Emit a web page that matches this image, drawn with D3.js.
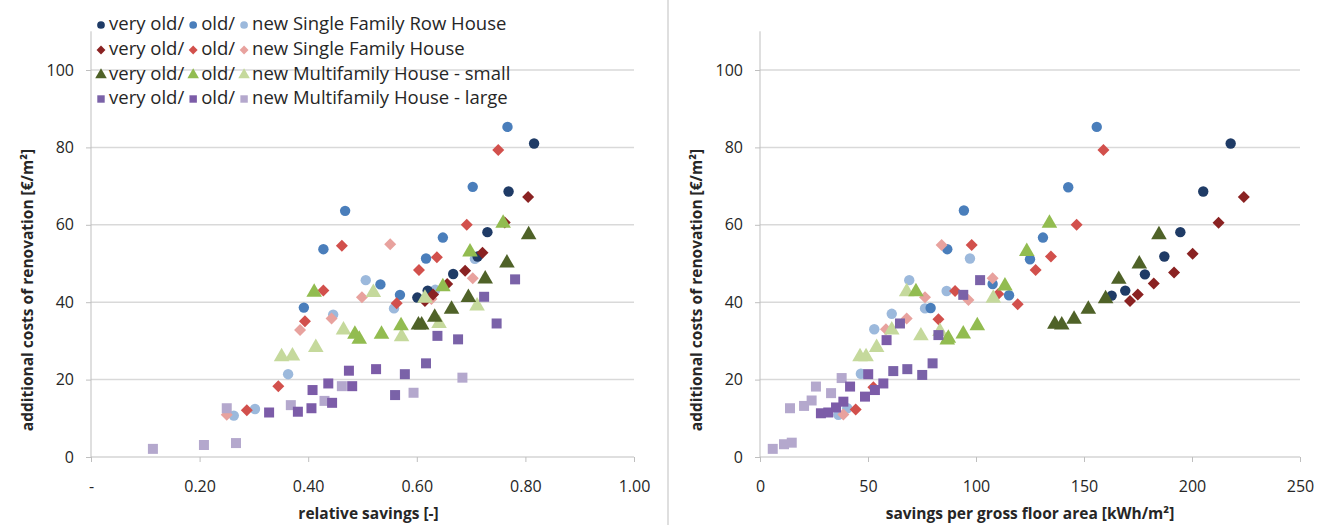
<!DOCTYPE html>
<html>
<head>
<meta charset="utf-8">
<script src="https://cdn.jsdelivr.net/npm/d3@7"></script>
<style>
  body { margin: 0; background: #fff; }
  text { font-family: "Open Sans", "Liberation Sans", sans-serif; fill: #262626; }
</style>
</head>
<body>
<div id="chart"></div>
<script>
// relative savings [-] vs additional costs [€/m²]  (left panel)
var rowVeryOldRel = [[0.816,81.0],[0.769,68.6],[0.730,58.1],[0.712,51.8],[0.667,47.3],[0.620,43.0],[0.601,41.2]];
var rowOldRel = [[0.767,85.3],[0.703,69.8],[0.468,63.6],[0.648,56.7],[0.428,53.7],[0.617,51.3],[0.533,44.6],[0.569,41.9],[0.392,38.6]];
var rowNewRel = [[0.707,51.2],[0.506,45.7],[0.634,43.2],[0.558,38.4],[0.446,36.8],[0.363,21.4],[0.302,12.4],[0.263,10.7]];
var sfhVeryOldRel = [[0.805,67.2],[0.762,60.6],[0.721,52.8],[0.689,48.1],[0.656,44.7],[0.630,42.0],[0.615,40.3]];
var sfhOldRel = [[0.750,79.3],[0.692,60.0],[0.462,54.6],[0.637,51.6],[0.604,48.3],[0.428,43.0],[0.563,39.7],[0.394,35.1],[0.345,18.3],[0.287,12.1]];
var sfhNewRel = [[0.551,55.0],[0.703,46.2],[0.499,41.3],[0.627,40.8],[0.443,35.8],[0.385,32.8],[0.250,10.9]];
var mfsVeryOldRel = [[0.806,57.4],[0.766,50.1],[0.726,46.0],[0.695,41.2],[0.664,38.2],[0.633,36.1],[0.609,34.1],[0.603,34.1]];
var mfsOldRel = [[0.759,60.4],[0.698,53.0],[0.648,44.0],[0.411,42.6],[0.571,33.9],[0.535,31.7],[0.494,30.4],[0.486,31.7]];
var mfsNewRel = [[0.520,42.5],[0.615,41.0],[0.711,39.0],[0.641,34.5],[0.465,32.8],[0.572,31.1],[0.414,28.3],[0.351,25.9],[0.371,26.1]];
var mflVeryOldRel = [[0.638,31.3],[0.676,30.4],[0.747,34.5],[0.724,41.4],[0.781,45.9],[0.617,24.2],[0.578,21.4],[0.560,16.0]];
var mflOldRel = [[0.328,11.5],[0.381,11.7],[0.406,12.6],[0.444,14.0],[0.408,17.3],[0.437,19.0],[0.481,18.3],[0.475,22.3],[0.525,22.7]];
var mflNewRel = [[0.114,2.1],[0.208,3.1],[0.267,3.6],[0.250,12.6],[0.368,13.4],[0.430,14.5],[0.462,18.3],[0.594,16.6],[0.684,20.5]];

// savings per gross floor area [kWh/m²] vs additional costs [€/m²]  (right panel)
var rowVeryOldAbs = [[217.9,81.0],[205.2,68.6],[194.6,58.1],[187.2,51.8],[178.2,47.2],[169.1,43.0],[162.8,41.7]];
var rowOldAbs = [[155.9,85.3],[142.7,69.7],[94.4,63.7],[131.0,56.7],[86.7,53.7],[125.0,51.1],[107.7,44.7],[115.3,41.8],[79.0,38.5]];
var rowNewAbs = [[97.2,51.3],[69.1,45.7],[86.4,42.9],[76.4,38.4],[61.0,37.0],[52.9,33.0],[46.7,21.5],[40.4,12.6],[36.3,10.9]];
var sfhVeryOldAbs = [[224.0,67.2],[212.3,60.5],[200.3,52.5],[191.7,47.7],[182.3,44.8],[174.9,42.0],[171.3,40.3]];
var sfhOldAbs = [[159.0,79.3],[146.6,60.0],[98.0,54.8],[134.7,51.8],[127.6,48.3],[90.3,42.9],[110.3,42.1],[119.3,39.5],[82.6,35.6],[52.5,18.0],[44.3,12.3]];
var sfhNewAbs = [[84.1,54.8],[107.7,46.2],[76.4,41.3],[96.5,40.6],[67.9,35.8],[58.3,33.0],[38.6,11.0]];
var mfsVeryOldAbs = [[184.7,57.4],[175.6,49.9],[166.1,45.9],[160.0,40.9],[152.0,38.2],[145.4,35.6],[139.7,34.1],[136.5,34.3]];
var mfsOldAbs = [[134.0,60.4],[123.5,53.1],[113.4,44.2],[72.2,42.7],[100.6,33.9],[94.1,31.8],[86.7,30.2],[87.2,30.7]];
var mfsNewAbs = [[108.0,41.0],[67.9,42.7],[74.5,31.3],[61.0,32.8],[54.0,28.3],[46.3,25.9],[49.1,25.9],[83.3,32.4]];
var mflVeryOldAbs = [[61.7,22.2],[68.2,22.7],[75.1,21.2],[79.9,24.2],[82.6,31.5],[94.1,41.9],[101.9,45.7],[64.8,34.5]];
var mflOldAbs = [[28.2,11.3],[31.6,11.5],[35.2,12.8],[38.6,14.3],[41.7,18.2],[48.6,15.6],[53.2,17.3],[57.1,19.0],[58.6,30.2],[50.1,21.4]];
var mflNewAbs = [[5.9,2.1],[11.1,3.3],[14.7,3.7],[13.9,12.6],[20.4,13.2],[23.9,14.6],[25.9,18.2],[32.9,16.5],[37.8,20.4]];

// legend / tick labels
var buildingTypes = ["Single Family Row House", "Single Family House", "Multifamily House - small", "Multifamily House - large"];
var ageLabels = ["very old/", "old/", "new "];
var yTicks = [0, 20, 40, 60, 80, 100];
var relTicks = [0, 0.2, 0.4, 0.6, 0.8, 1.0];
var relTickLabels = ["-", "0.20", "0.40", "0.60", "0.80", "1.00"];
var absTicks = [0, 50, 100, 150, 200, 250];

// diamonds are squares turned by 45 degrees
var shapes = [d3.symbolCircle, d3.symbolSquare, d3.symbolTriangle, d3.symbolSquare];
var rotations = [0, 45, 0, 0];
var sizes = [85, 72, 105, 100];
var colors = [
  ["#1f3b66", "#4a7ebb", "#9cb9dc"],
  ["#8a2222", "#d2504c", "#e8a29e"],
  ["#4f6228", "#92bc50", "#c5d99c"],
  ["#7a62a8", "#7c5ca8", "#b4a8cd"]
];
var relSeries = [
  [rowVeryOldRel, rowOldRel, rowNewRel],
  [sfhVeryOldRel, sfhOldRel, sfhNewRel],
  [mfsVeryOldRel, mfsOldRel, mfsNewRel],
  [mflVeryOldRel, mflOldRel, mflNewRel]
];
var absSeries = [
  [rowVeryOldAbs, rowOldAbs, rowNewAbs],
  [sfhVeryOldAbs, sfhOldAbs, sfhNewAbs],
  [mfsVeryOldAbs, mfsOldAbs, mfsNewAbs],
  [mflVeryOldAbs, mflOldAbs, mflNewAbs]
];

var svgWidth = 1333, svgHeight = 525;
var svg = d3.select("#chart").append("svg")
  .attr("width", svgWidth)
  .attr("height", svgHeight);

// panel separator
svg.append("line")
  .attr("x1", 668).attr("x2", 668).attr("y1", 0).attr("y2", svgHeight)
  .attr("stroke", "#bfbfbf").attr("stroke-width", 1);

function drawPanel(opts) {
  var g = svg.append("g");
  var x = d3.scaleLinear().domain(opts.xDomain).range([opts.left, opts.right]);
  var y = d3.scaleLinear().domain([0, 110]).range([457, 31.3]);

  // gridlines
  g.append("g").selectAll("line")
    .data(yTicks.filter(d => d > 0))
    .enter().append("line")
    .attr("x1", opts.left).attr("x2", opts.right)
    .attr("y1", d => y(d)).attr("y2", d => y(d))
    .attr("stroke", "#d9d9d9").attr("stroke-width", 1.5);

  // y axis
  var yAxis = d3.axisLeft(y).tickValues(yTicks).tickSize(5).tickPadding(12);
  var yg = g.append("g")
    .attr("transform", `translate(${opts.left},0)`)
    .call(yAxis);
  yg.select(".domain").attr("stroke", "#bfbfbf").attr("d", `M0,${y(110)}V${y(0)}`);
  yg.selectAll(".tick line").attr("stroke", "#bfbfbf");
  yg.selectAll(".tick text").attr("font-size", "16px").attr("font-family", "Open Sans").attr("fill", "#262626");

  // x axis
  var xAxis = d3.axisBottom(x).tickValues(opts.ticks).tickSize(5).tickPadding(19)
    .tickFormat((d, i) => opts.tickLabels[i]);
  var xg = g.append("g")
    .attr("transform", `translate(0,${y(0)})`)
    .call(xAxis);
  xg.select(".domain").attr("stroke", "#bfbfbf").attr("d", `M${opts.left},0H${opts.right}`);
  xg.selectAll(".tick line").attr("stroke", "#bfbfbf");
  xg.selectAll(".tick text").attr("font-size", "16px").attr("font-family", "Open Sans").attr("fill", "#262626");

  // axis titles
  g.append("text")
    .attr("transform", `translate(${opts.left - 58},290) rotate(-90)`)
    .attr("text-anchor", "middle")
    .attr("font-size", "15.5px").attr("font-weight", "bold")
    .text("additional costs of renovation [€/m²]");
  g.append("text")
    .attr("x", (opts.left + opts.right) / 2 + opts.titleShift)
    .attr("y", 519)
    .attr("text-anchor", "middle")
    .attr("font-size", "15.5px").attr("font-weight", "bold")
    .text(opts.xTitle);

  // points: new, old, then very old so the darker marks sit on top
  opts.series.forEach(function (byAge, t) {
    [2, 1, 0].forEach(function (a) {
      g.append("g").selectAll("path")
        .data(byAge[a])
        .enter().append("path")
        .attr("transform", d => `translate(${x(d[0])},${y(d[1])}) rotate(${rotations[t]})`)
        .attr("d", d3.symbol().type(shapes[t]).size(sizes[t]))
        .attr("fill", colors[t][a]);
    });
  });
}

drawPanel({
  left: 91, right: 634, xDomain: [0, 1],
  ticks: relTicks, tickLabels: relTickLabels,
  xTitle: "relative savings [-]", titleShift: 6,
  series: relSeries
});

drawPanel({
  left: 760, right: 1300, xDomain: [0, 250],
  ticks: absTicks, tickLabels: absTicks.map(String),
  xTitle: "savings per gross floor area [kWh/m²]", titleShift: 0,
  series: absSeries
});

// legend: marker + text, laid out one after another
var legend = svg.append("g");
var rowY = [24, 49, 74, 98];
buildingTypes.forEach(function (name, t) {
  var cx = 101;
  ageLabels.forEach(function (lab, a) {
    legend.append("path")
      .attr("transform", `translate(${cx},${rowY[t] + 1}) rotate(${rotations[t]})`)
      .attr("d", d3.symbol().type(shapes[t]).size(sizes[t] * 0.55))
      .attr("fill", colors[t][a]);
    var txt = legend.append("text")
      .attr("x", cx + 8).attr("y", rowY[t])
      .attr("dy", "0.35em")
      .attr("font-size", "18.5px")
      .text(a === 2 ? lab + name : lab);
    cx = cx + 8 + txt.node().getComputedTextLength() + 9;
  });
});
</script>
</body>
</html>
